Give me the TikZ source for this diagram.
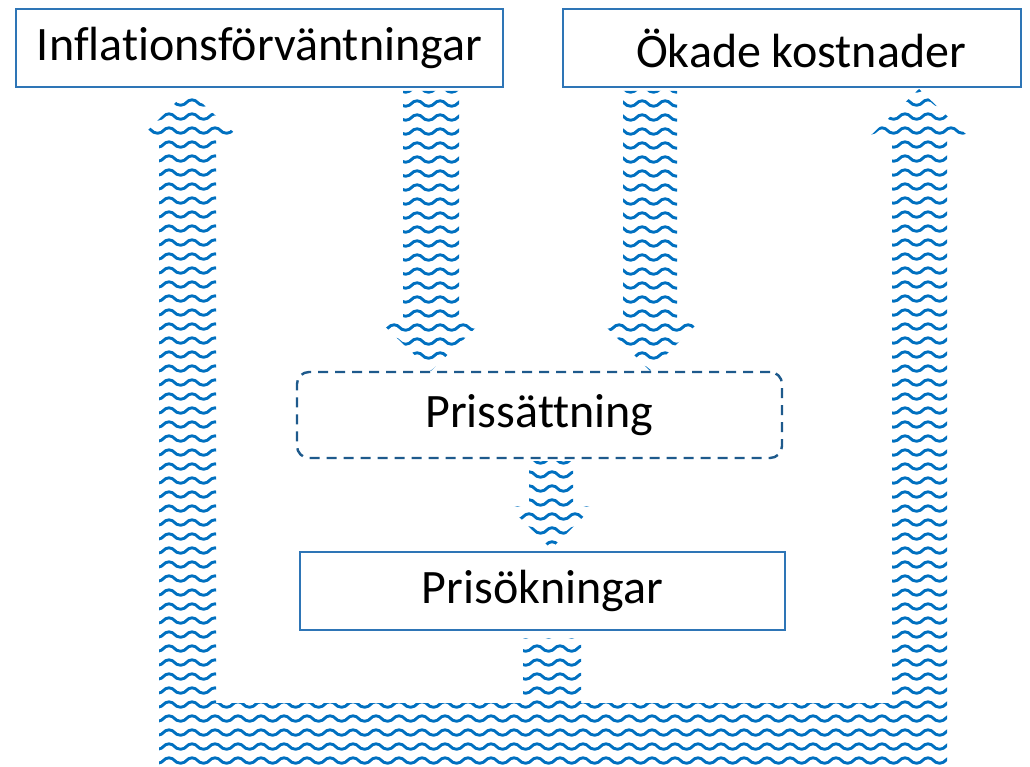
\documentclass[tikz,border=0pt]{standalone}
\usepackage{fontspec}
\setmainfont{Carlito}[Ligatures={NoCommon}]
\usetikzlibrary{patterns,calc}
\definecolor{wavecol}{RGB}{0,112,192}
\definecolor{boxblue}{RGB}{46,117,182}
\definecolor{dashblue}{RGB}{30,90,140}
\pgfdeclarepatternformonly{waves}{\pgfpoint{0pt}{0pt}}{\pgfpoint{22.5pt}{13.5pt}}{\pgfpoint{22.5pt}{13.5pt}}{%
  \pgfsetlinewidth{3pt}%
  \pgfpathmoveto{\pgfpoint{-1pt}{4pt}}%
  \pgfpathlineto{\pgfpoint{0pt}{4pt}}%
  \pgfpathcurveto{\pgfpoint{5.6pt}{4pt}}{\pgfpoint{5.6pt}{9.5pt}}{\pgfpoint{11.25pt}{9.5pt}}%
  \pgfpathcurveto{\pgfpoint{16.9pt}{9.5pt}}{\pgfpoint{16.9pt}{4pt}}{\pgfpoint{22.5pt}{4pt}}%
  \pgfpathlineto{\pgfpoint{23.5pt}{4pt}}%
  \pgfusepath{stroke}%
}
\newcommand\blkdown[6]{%
  \fill[wave] ([xshift=-#3pt,yshift=-#6pt]#1) -- ([xshift=#3pt,yshift=-#6pt]#1)
    -- ([xshift=#3pt,yshift=#5pt]#2) -- ([xshift=#4pt,yshift=#5pt]#2) -- (#2)
    -- ([xshift=-#4pt,yshift=#5pt]#2) -- ([xshift=-#3pt,yshift=#5pt]#2) -- cycle;}
\begin{document}
\begin{tikzpicture}[x=1pt,y=-1pt,
  wave/.style={pattern=waves, pattern color=wavecol},
  box/.style={draw=boxblue, line width=2pt, inner sep=0pt, font=\fontsize{48}{56}\selectfont},
  dbox/.style={draw=dashblue, line width=2.4pt, dash pattern=on 10pt off 7pt, rounded corners=12pt, inner sep=0pt, font=\fontsize{48}{56}\selectfont}]
\useasboundingbox (0,0) rectangle (1030,767);
\node[box, minimum width=487pt, minimum height=78pt] (inf) at (259.5,48) {Inflationsförväntningar};
\node[box, minimum width=458pt, minimum height=78pt] (okade) at (792,48) {\hspace*{18pt}Ökade kostnader};
\node[dbox, minimum width=485pt, minimum height=86pt] (pris) at (539.5,415) {Prissättning};
\node[box, minimum width=485pt, minimum height=78pt] (prisok) at (542.5,591) {Prisökningar};
% down arrows
\coordinate (a1top) at (431,0 |- inf.south);
\coordinate (a1tip) at (431,0 |- pris.north);
\coordinate (a2top) at (650,0 |- okade.south);
\coordinate (a2tip) at (650,0 |- pris.north);
\coordinate (a3top) at (551,0 |- pris.south);
\coordinate (a3tip) at ([yshift=2pt]551,0 |- prisok.north);
\blkdown{a1top}{a1tip}{28}{54}{52}{3}
\blkdown{a2top}{a2tip}{27}{50}{50}{3}
\blkdown{a3top}{a3tip}{22}{43}{43}{2}
% feedback arrows
\coordinate (lt) at ([yshift=-2pt]188,0 |- inf.south);
\coordinate (rt) at ([yshift=-1pt]919,0 |- okade.south);
\coordinate (bs) at ([yshift=-7pt]552,0 |- prisok.south);
\fill[wave] (159,767) -- (159,140) -- (138,140) -- (lt) -- (242,140) -- (216,140)
  -- (216,703) -- (523,703) -- (523,0 |- bs) -- (581,0 |- bs) -- (581,703)
  -- (892,703) -- (892,140) -- (866,140) -- (rt) -- (972,140) -- (947,140)
  -- (947,767) -- cycle;
\end{tikzpicture}
\end{document}
